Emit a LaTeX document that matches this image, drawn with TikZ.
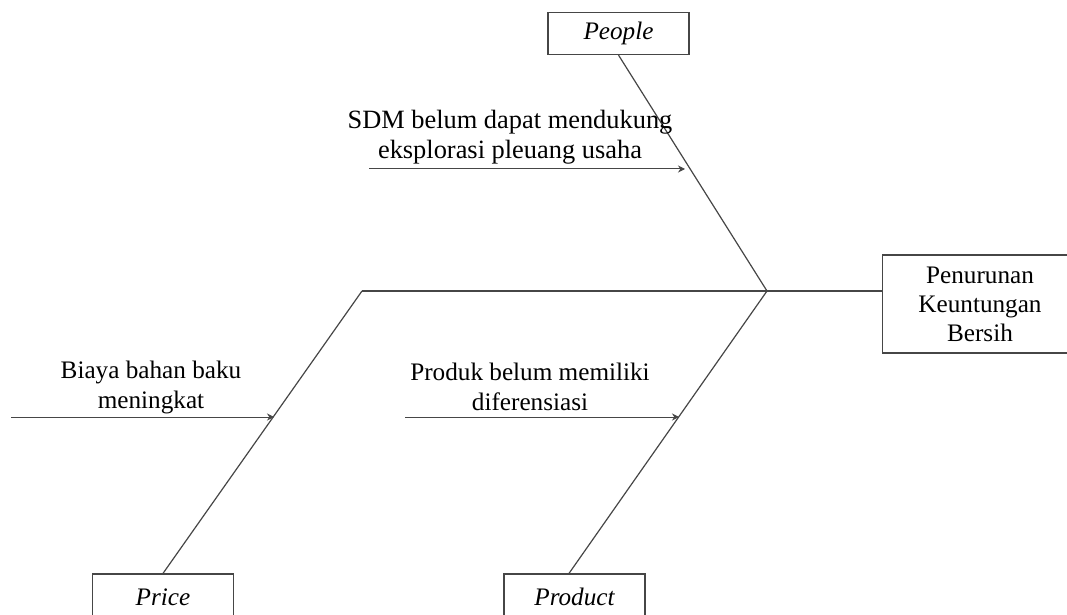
\documentclass[tikz,border=0pt]{standalone}
\usepackage{fontspec}
\setmainfont{Liberation Serif}
\usetikzlibrary{arrows.meta, positioning, calc}
\definecolor{boneline}{RGB}{70,70,70}
\tikzset{
  % Category box (People, Price, Product)
  catbox/.style={
    rectangle, draw=boneline, line width=0.6pt, minimum width=70.5pt, minimum height=21pt,
    inner sep=0pt, font=\fontsize{12.6}{15}\selectfont\itshape
  },
  % Effect box on the head of the fish (runs off the right edge)
  effectframe/.style={
    rectangle, draw=boneline, line width=0.6pt, minimum width=150pt, minimum height=49pt, anchor=west
  },
  effecttext/.style={align=center, font=\fontsize{12.6}{14.5}\selectfont},
  bone/.style={draw=boneline, line width=0.6pt},
  causearrow/.style={-{Stealth[length=3.5pt, width=3.5pt]}, draw=boneline, line width=0.5pt},
  causelabel/.style={align=center, font=\fontsize{12.6}{15}\selectfont, inner sep=0pt}
}
\begin{document}
\begin{tikzpicture}[x=0.5pt, y=-0.5pt]
  \useasboundingbox (0,0) rectangle (1067,615);

  % Nodes
  \node[catbox] (people) at (618.5,33.5) {People};
  \node[catbox, minimum height=23pt] (price) at (163,597) {Price};
  \node[catbox, minimum height=23pt] (product) at (574.5,597) {Product};
  \node[effectframe] (frame) at (882,304) {};
  \node[effecttext] (effect) at (980,304) {Penurunan\\Keuntungan\\Bersih};

  % Spine joints
  \coordinate (head) at (767,291);
  \coordinate (tail) at (362,291);

  % Bones
  \draw[bone] (tail) -- (head) -- (head -| frame.west);
  \draw[bone] (people.south) -- (head);
  \draw[bone] ([xshift=-2.75pt]product.north) -- (head);
  \draw[bone] (price.north) -- (tail);

  % Causes
  \coordinate (sdmstart) at (369,169);
  \coordinate (sdmend) at (685,169);
  \coordinate (biayastart) at (11,417);
  \coordinate (biayaend) at (274,417);
  \coordinate (produkstart) at (405,417);
  \coordinate (produkend) at (679,417);

  \draw[causearrow] (sdmstart) -- (sdmend);
  \draw[causearrow] (biayastart) -- (biayaend);
  \draw[causearrow] (produkstart) -- (produkend);

  \node[causelabel, font=\fontsize{13.2}{15}\selectfont] (sdm) at (510,137) {SDM belum dapat mendukung\\eksplorasi pleuang usaha};
  \node[causelabel] (biaya) at (151,387) {Biaya bahan baku\\meningkat};
  \node[causelabel] (produk) at (530,387) {Produk belum memiliki\\diferensiasi};
\end{tikzpicture}
\end{document}
